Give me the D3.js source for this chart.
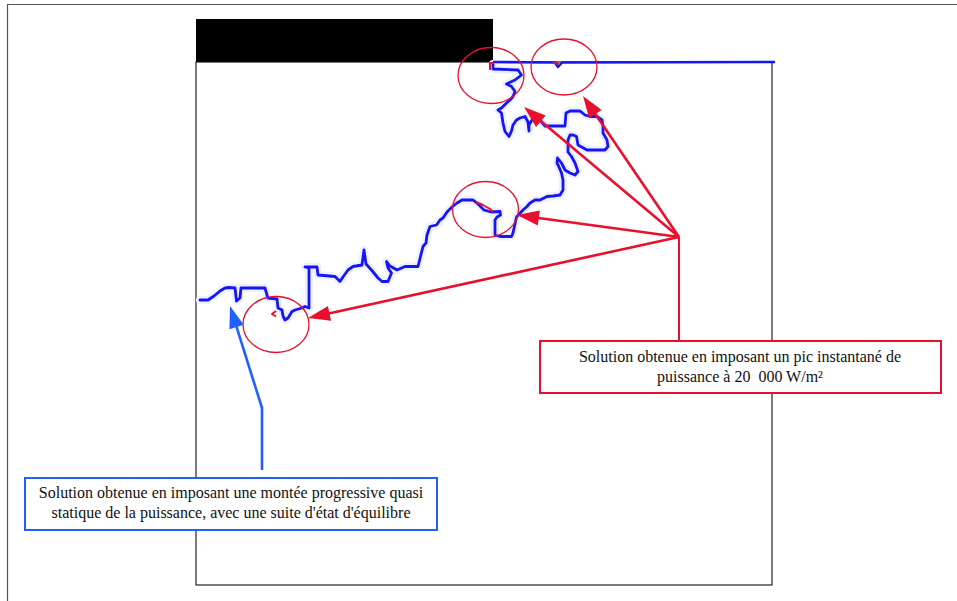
<!DOCTYPE html>
<html><head><meta charset="utf-8">
<script src="https://cdn.jsdelivr.net/npm/d3@7"></script>
<style>body{margin:0;background:#fff}svg{display:block}</style></head>
<body>
<svg id="c" width="957" height="601"></svg>
<script>
// Main solution trajectory (quasi-static progressive ramp), data units
const trajX = [4,12,18,24,29,33,39,40.5,44,45,69,71,72,81,82,86,87,89,92,96,99,106,109,113,113,109,121,122,139,144,147,152,157,166,168,170,175.5,182,186,192,195.5,192,190.5,194,201,209,222,224.5,227,230,231,234,240.5,244,247,251,256,261,266,277,282,288,295,304,304.5,301,299,299,304,315.5,317,320.5,327,331,334,339,344,351,357,364,367,367,365.5,363,361,361.5,365.5,369,374,379,382,379,375.5,372,372,374,377,380.5,382,391,409,412,411,407,407,406,401,394,389,384,374,370,369,349,344,336,333,333,332,329,324,320.5,317,315.5,313,309,307,305.5,302,305.5,310.5,314,317,319,315.5,310.5,319,325.5,322,297,297];
const trajY = [285,285,289,294,297,297.5,297,284,287,297,297,290,287,286,277,275,269,265,267,273.5,275,277,278.5,277,317,318,318,310,308.5,303.5,308,315,318.5,320,335,321,315,307,303.5,303.5,312,317,323.5,319,315,318.5,318.5,328.5,338.5,342,350,358.5,360,365,367,373,378,382,385,385,381,375,373,373.5,370,368,365,350,348.5,348.5,352,368,375,378.5,382,385,385,388.5,389,390,395,405,412,418,422,427,422,415,412,410,413.5,422,428.5,433,445,450,450,448.5,440,435,435,438.5,445,452,458.5,465,468.5,468.5,470,474,474,472,459,459,465,465,460,454,463,468.5,467,465,460,454,448.5,453.5,462,472,475,477,482,485,488.5,493.5,498.5,501,505,510,515,516,521];
// Top plateau of the solution
const plateauX = [297,359,362,366,579];
const plateauY = [523,522.5,518,522.5,523];
// Instantaneous power peak solution (red fragments)
const peakSegsX = [[294,294,298],[357,363],[280,287,294,297],[80,76,80]];
const peakSegsY = [[515,522,522],[522,521.5],[383,380,376,373],[274,271,268.5]];
// Highlighted points (circle centres)
const circX = [295,368,289.5,80];
const circY = [509.5,518,375.5,260.5];
const circRX = 33, circRY = 28;
// Annotation texts
const redLabel = ["Solution obtenue en imposant un pic instantané de","puissance à 20  000 W/m²"];
const blueLabel = ["Solution obtenue en imposant une montée progressive quasi","statique de la puissance, avec une suite d'état d'équilibre"];

const svg = d3.select("#c");
const x = d3.scaleLinear().domain([0,576]).range([196,772]);
const y = d3.scaleLinear().domain([0,523]).range([585,62]);
const RED = "#e8112d", BLUE = "#1515f5", ABLUE = "#1f5eff";

// outer frame
svg.append("path").attr("d","M7.5,601 V4.5 H957").attr("fill","none").attr("stroke","#555").attr("stroke-width",1.2);
// plot box
svg.append("rect").attr("x",x(0)).attr("y",y(523)).attr("width",x(576)-x(0)).attr("height",y(0)-y(523))
  .attr("fill","#fff").attr("stroke","#222").attr("stroke-width",1.2);
// black title band
svg.append("rect").attr("x",x(0)).attr("y",19).attr("width",x(297)-x(0)).attr("height",y(523)-19).attr("fill","#000");

const traj = trajX.map((v,i)=>[v,trajY[i]]);
const plateau = plateauX.map((v,i)=>[v,plateauY[i]]);
const line = d3.line().x(d=>x(d[0])).y(d=>y(d[1]));

// faint halo
svg.append("path").attr("d",line(traj)).attr("fill","none").attr("stroke","#eef1fd").attr("stroke-width",8)
  .attr("stroke-linejoin","round").attr("stroke-linecap","round");
svg.append("path").attr("d",line(traj)).attr("fill","none").attr("stroke",BLUE).attr("stroke-width",2.8)
  .attr("stroke-linejoin","round").attr("stroke-linecap","round");
svg.append("path").attr("d",line(plateau)).attr("fill","none").attr("stroke",BLUE).attr("stroke-width",2.6)
  .attr("stroke-linejoin","round");
peakSegsX.forEach((xs,k)=>{
  const pts = xs.map((v,i)=>[v,peakSegsY[k][i]]);
  svg.append("path").attr("d",line(pts)).attr("fill","none").attr("stroke",RED).attr("stroke-width",2)
    .attr("stroke-linejoin","round");
});

// circles
circX.forEach((cx,i)=>{
  svg.append("ellipse").attr("cx",x(cx)).attr("cy",y(circY[i]))
    .attr("rx",x(circRX)-x(0)).attr("ry",y(0)-y(circRY))
    .attr("fill","none").attr("stroke",RED).attr("stroke-width",1.3);
});

function arrow(x0,y0,x1,y1,col){
  const dx=x1-x0, dy=y1-y0, L=Math.hypot(dx,dy), ux=dx/L, uy=dy/L;
  const hl=22, hw=7.5;
  const bx=x1-ux*hl, by=y1-uy*hl;
  svg.append("line").attr("x1",x0).attr("y1",y0).attr("x2",bx+ux*2).attr("y2",by+uy*2)
    .attr("stroke",col).attr("stroke-width",2.6);
  svg.append("path").attr("d",`M${x1},${y1}L${bx-uy*hw},${by+ux*hw}L${bx+uy*hw},${by-ux*hw}Z`).attr("fill",col);
}
// red arrows from a common origin
const ox=679, oy=237;
const tgt = [[328,478],[387,489],[321,370],[112,267]];
svg.append("line").attr("x1",ox).attr("y1",oy).attr("x2",ox).attr("y2",341).attr("stroke",RED).attr("stroke-width",2);
tgt.forEach(t=>arrow(ox,oy,x(t[0]),y(t[1]),RED));

// blue arrow
svg.append("line").attr("x1",262).attr("y1",470).attr("x2",262).attr("y2",407).attr("stroke",ABLUE).attr("stroke-width",2.6);
arrow(262,408,x(34),y(279),ABLUE);

// red box
svg.append("rect").attr("x",540).attr("y",341).attr("width",401).attr("height",52)
  .attr("fill","#fff").attr("stroke",RED).attr("stroke-width",2);
redLabel.forEach((t,i)=>svg.append("text").attr("x",740).attr("y",362+i*19.5).attr("text-anchor","middle")
  .attr("font-family","Liberation Serif, Times New Roman, serif").attr("font-size",16).attr("fill","#111")
  .style("white-space","pre").text(t));

// blue box
svg.append("rect").attr("x",25).attr("y",478).attr("width",412).attr("height",52)
  .attr("fill","#fff").attr("stroke",ABLUE).attr("stroke-width",2);
blueLabel.forEach((t,i)=>svg.append("text").attr("x",231).attr("y",498+i*19.5).attr("text-anchor","middle")
  .attr("font-family","Liberation Serif, Times New Roman, serif").attr("font-size",16).attr("fill","#111")
  .style("white-space","pre").text(t));
</script>
</body></html>
